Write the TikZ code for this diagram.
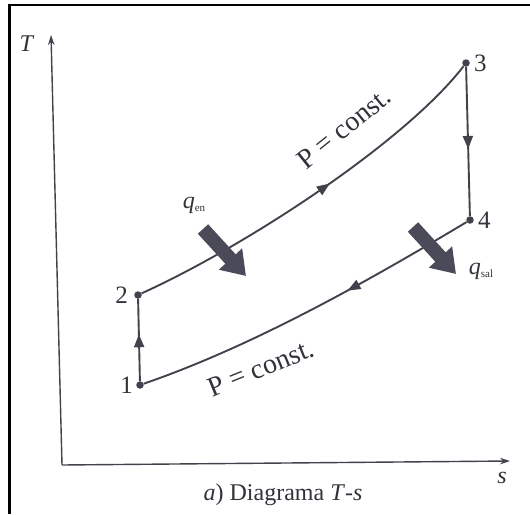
\documentclass[tikz,border=0pt]{standalone}
\usepackage{fontspec}
\setmainfont{Liberation Serif}
\usetikzlibrary{positioning}
\usetikzlibrary{arrows.meta}
\usetikzlibrary{decorations.markings}

\definecolor{inkgray}{RGB}{66,66,76}
\definecolor{heatgray}{RGB}{74,74,88}
\definecolor{textgray}{RGB}{50,50,58}

\newcommand{\qlab}[1]{\textit{q}\raisebox{-0.3ex}{\fontsize{11}{11}\selectfont #1}}

\tikzset{
  statept/.style={circle, fill=inkgray, inner sep=0pt, minimum size=7.5pt},
  statelab/.style={font=\fontsize{25}{29}\selectfont, text=textgray, inner sep=1pt},
  process/.style={color=inkgray, line width=1.9pt, postaction={decorate},
    decoration={markings, mark=at position #1 with {\arrow{Triangle[length=13pt,width=10pt]}}}},
  heatarrow/.style={draw=heatgray, line width=14pt, -{Triangle[length=23pt,width=30pt,fill=heatgray]}},
  axisline/.style={draw=inkgray, line width=1.4pt, -{Stealth[length=10pt,width=6.5pt,fill=inkgray]}},
  axislab/.style={font=\fontsize{24}{28}\selectfont, text=textgray},
  plab/.style={font=\fontsize{28}{32}\selectfont, text=textgray, inner sep=0pt},
  heatlab/.style={font=\fontsize{24}{28}\selectfont, text=textgray, inner sep=0pt},
}

\begin{document}
\begin{tikzpicture}[x=1pt, y=1pt]
\useasboundingbox (0,0) rectangle (530,-514);
% frame
\draw[line width=2.2pt] (9.5,-514) |- (530,-5);

% axes
\coordinate (origin) at (62,-465);
\coordinate (Ttip) at (51,-35);
\coordinate (stip) at (510,-461);
\draw[axisline] (origin) -- (Ttip);
\draw[axisline] (origin) -- (stip);
\node[axislab] (Tlab) at (27,-44) {\textit{T}};
\node[axislab] (slab) at (502,-478) {\textit{s}};

% states
\node[statept] (p1) at (140,-385) {};
\node[statept] (p2) at (138,-295) {};
\node[statept] (p3) at (466,-63) {};
\node[statept] (p4) at (470,-220) {};
\node[statelab, left=2pt of p1] (l1) {1};
\node[statelab, left=5pt of p2] (l2) {2};
\node[statelab, right=3pt of p3] (l3) {3};
\node[statelab, right=3pt of p4] (l4) {4};

% cycle
\draw[process=0.57] (p1) -- (p2);
\draw[process=0.55] (p2) .. controls (248,-245) and (406,-141) .. (p3);
\draw[process=0.55] (p3) -- (p4);
\draw[process=0.38] (p4) .. controls (360,-286) and (250,-347) .. (p1);

\node[plab, rotate=39] (pconstA) at (344,-128) {P = const.};
\node[plab, rotate=22] (pconstB) at (261,-368) {P = const.};

% heat in / out
\coordinate (qenA) at (203,-229);
\coordinate (qenB) at (246,-276);
\coordinate (qsalA) at (413,-227);
\coordinate (qsalB) at (456,-274);
\draw[heatarrow] (qenA) -- (qenB);
\draw[heatarrow] (qsalA) -- (qsalB);
\node[heatlab] (qen) at (194,-205) {\qlab{en}};
\node[heatlab] (qsal) at (481,-271) {\qlab{sal}};

\node[axislab] (caption) at (283,-495) {\textit{a}) Diagrama \textit{T}-\textit{s}};
\end{tikzpicture}
\end{document}
